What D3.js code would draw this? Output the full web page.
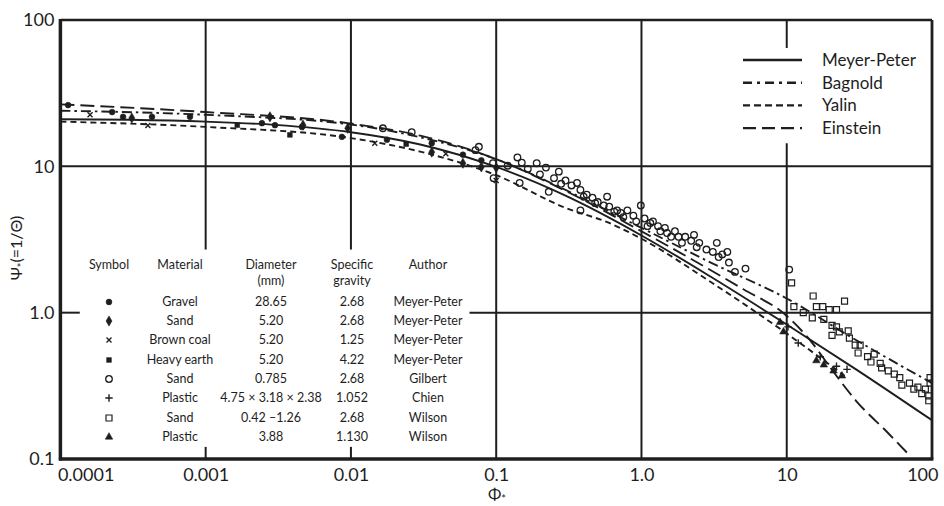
<!DOCTYPE html>
<html>
<head>
<meta charset="utf-8">
<script src="https://cdn.jsdelivr.net/npm/d3@7"></script>
<style>
  html, body { margin: 0; background: #fff; }
  svg text { font-family: Lato, "Open Sans", sans-serif; fill: #1e1e1e; }
</style>
</head>
<body>
<svg id="chart" width="944" height="506"></svg>
<script>
// ---- axis ticks ----
const xTicks = [1e-4, 1e-3, 1e-2, 0.1, 1, 10, 100];
const xTickLabels = ["0.0001", "0.001", "0.01", "0.1", "1.0", "10", "100"];
const yTicks = [0.1, 1, 10, 100];
const yTickLabels = ["0.1", "1.0", "10", "100"];

// ---- transport curves [Phi, Psi] ----
const meyerPeter = [[1e-4,21.0],[3e-4,20.8],[1e-3,20.2],[3e-3,19.2],[0.01,17.1],[0.03,14.1],[0.1,9.9],[0.3,6.3],[1,3.37],[3,1.76],[10,0.83],[30,0.41],[100,0.184]];
const bagnold    = [[1e-4,24.0],[1e-3,22.5],[0.01,19.3],[0.03,15.8],[0.1,11.2],[0.3,6.9],[1,3.8],[3,2.2],[10,1.25],[30,0.65],[100,0.33]];
const yalin      = [[1e-4,20.2],[1e-3,18.6],[0.01,15.6],[0.03,12.6],[0.1,8.7],[0.3,5.2],[0.6,4.1],[1,3.2],[3,1.62],[10,0.72],[25,0.37]];
const einstein   = [[1e-4,26.5],[1e-3,23.5],[0.01,19.6],[0.03,16.2],[0.1,11.2],[0.3,6.8],[1,3.6],[3,1.95],[5,1.45],[10,0.95],[15,0.62],[20,0.42],[30,0.25],[50,0.15],[70,0.106]];

const curveNames = ["Meyer-Peter", "Bagnold", "Yalin", "Einstein"];

// ---- measured data [Phi, Psi] ----
const gravelPts = [[1.13e-4,26.2],[2.27e-4,23.5],[2.7e-4,21.8],[4.27e-4,21.8],[7.8e-4,21.8],[2.44e-3,19.7],[3.0e-3,19.1],[4.6e-3,18.6],[8.67e-3,15.9],[0.0177,15.2],[0.036,14.4],[0.059,12.0],[0.079,11.0]];
const sandMPPts = [[3.1e-4,21.4],[2.77e-3,21.8],[4.68e-3,19.1],[9.5e-3,18.2],[0.036,12.5],[0.059,10.5],[0.079,9.9],[0.1,9.8]];
const brownCoalPts = [[1.6e-4,22.5],[4.0e-4,19.0],[0.0146,14.4],[0.045,12.2],[0.1,8.0]];
const heavyEarthPts = [[1.65e-3,19.1],[3.8e-3,16.4],[0.024,14.2]];
const gilbertPts = [[0.0166,18.2],[0.0262,17.1],[0.072,12.9],[0.076,13.6],[0.095,10.5],[0.096,8.3],[0.12,10.1],[0.14,11.5],[0.145,7.7],[0.15,10.6],[0.165,9.6],[0.19,10.5],[0.2,8.8],[0.22,9.8],[0.23,6.7],[0.25,8.3],[0.27,9.2],[0.28,7.6],[0.3,8.0],[0.33,7.4],[0.36,7.7],[0.38,6.9],[0.38,5.0],[0.4,6.2],[0.42,6.4],[0.46,6.1],[0.48,5.6],[0.5,5.7],[0.55,5.4],[0.58,6.2],[0.6,5.3],[0.65,4.9],[0.68,5.0],[0.72,4.8],[0.75,4.5],[0.8,5.0],[0.88,4.6],[0.92,4.2],[0.99,5.4],[1.05,4.4],[1.1,3.9],[1.15,4.1],[1.2,4.2],[1.3,3.9],[1.35,3.6],[1.45,3.8],[1.5,3.5],[1.6,3.3],[1.7,3.6],[1.8,3.3],[1.9,3.0],[2.0,3.3],[2.2,3.1],[2.3,3.4],[2.4,2.8],[2.5,3.0],[2.8,2.7],[3.1,2.6],[3.3,3.0],[3.4,2.4],[3.6,2.5],[3.9,2.6],[4.0,2.2],[4.4,1.9],[5.2,2.0],[10.4,1.97]];
const chienPts = [[10.2,0.8],[12,0.62],[17,0.5],[22,0.43],[26,0.41]];
const wilsonSandPts = [[10.8,1.6],[11.2,1.1],[13,1.0],[15.2,1.3],[15,0.92],[16,1.1],[17.7,1.1],[18,0.9],[19.6,1.05],[20.5,0.82],[20.5,0.7],[22,0.8],[22,1.05],[23,0.74],[25,1.2],[26.5,0.75],[27,0.67],[29.6,0.6],[32,0.6],[31,0.53],[36,0.5],[38,0.46],[40,0.52],[44,0.45],[45,0.42],[50,0.4],[55,0.38],[60,0.36],[62,0.32],[70,0.33],[75,0.3],[80,0.31],[85,0.28],[90,0.3],[95,0.27],[95,0.25],[97,0.33],[97,0.36]];
const wilsonPlasticPts = [[9.0,0.86],[9.5,0.74],[16,0.47],[18,0.44],[21,0.4],[24,0.37]];

// ---- table of experiments ----
const tableHeaders = [["Symbol"], ["Material"], ["Diameter", "(mm)"], ["Specific", "gravity"], ["Author"]];
const materials = ["Gravel", "Sand", "Brown coal", "Heavy earth", "Sand", "Plastic", "Sand", "Plastic"];
const diameters = ["28.65", "5.20", "5.20", "5.20", "0.785", "4.75 × 3.18 × 2.38", "0.42 –1.26", "3.88"];
const gravities = ["2.68", "2.68", "1.25", "4.22", "2.68", "1.052", "2.68", "1.130"];
const authors = ["Meyer-Peter", "Meyer-Peter", "Meyer-Peter", "Meyer-Peter", "Gilbert", "Chien", "Wilson", "Wilson"];

// ---- drawing ----
const svg = d3.select("#chart");
const L = 60.4, R = 932, T = 20, B = 459;
const x = d3.scaleLog().domain([1e-4, 100]).range([L, R]);
const y = d3.scaleLog().domain([0.1, 100]).range([B, T]);
const ink = "#1e1e1e";

// grid lines, with the breaks left around the legend and the table
const gridV = [
  { v: 1e-3, segs: [[2.7, 100], [0.1, 0.121]] },
  { v: 1e-2, segs: [[2.7, 100], [0.1, 0.121]] },
  { v: 0.1, segs: [[0.1, 100]] },
  { v: 1, segs: [[0.1, 100]] },
  { v: 10, segs: [[64.4, 100], [0.1, 14.4]] }
];
const gridH = [
  { v: 10, segs: [[1e-4, 100]] },
  { v: 1, segs: [[1e-4, 1.36e-4], [0.0655, 100]] }
];
const grid = svg.append("g").attr("stroke", ink).attr("stroke-width", 2);
gridV.forEach(g => g.segs.forEach(s => grid.append("line")
  .attr("x1", x(g.v)).attr("x2", x(g.v)).attr("y1", y(s[0])).attr("y2", y(s[1]))));
gridH.forEach(g => g.segs.forEach(s => grid.append("line")
  .attr("y1", y(g.v)).attr("y2", y(g.v)).attr("x1", x(s[0])).attr("x2", x(s[1]))));

// frame
svg.append("line").attr("x1", L).attr("x2", R).attr("y1", T).attr("y2", T).attr("stroke", ink).attr("stroke-width", 2.5);
svg.append("line").attr("x1", R).attr("x2", R).attr("y1", T).attr("y2", B).attr("stroke", ink).attr("stroke-width", 2.8);
svg.append("line").attr("x1", L).attr("x2", L).attr("y1", T - 1).attr("y2", B + 1.5).attr("stroke", ink).attr("stroke-width", 3.5);
svg.append("line").attr("x1", L - 1.5).attr("x2", R + 1.4).attr("y1", B).attr("y2", B).attr("stroke", ink).attr("stroke-width", 3.5);

// axes (labels only; the frame and grid carry the lines)
const xAxis = svg.append("g").attr("transform", `translate(0,${B})`)
  .call(d3.axisBottom(x).tickValues(xTicks).tickFormat((d, i) => xTickLabels[i]).tickSize(0).tickPadding(9));
const yAxis = svg.append("g").attr("transform", `translate(${L},0)`)
  .call(d3.axisLeft(y).tickValues(yTicks).tickFormat((d, i) => yTickLabels[i]).tickSize(0).tickPadding(6));
[xAxis, yAxis].forEach(a => {
  a.select(".domain").remove();
  a.selectAll("text").attr("font-size", 18).attr("fill", ink)
    .style("font-family", "Lato, 'Open Sans', sans-serif");
});
// end labels sit inside the page edges
xAxis.selectAll(".tick").filter((d, i) => i === 0).select("text")
  .attr("text-anchor", "start").attr("dx", -3);
xAxis.selectAll(".tick").filter((d, i) => i === xTicks.length - 1).select("text")
  .attr("text-anchor", "end").attr("dx", 6);

// axis titles
const yt = svg.append("text").attr("transform", "translate(22,248) rotate(-90)")
  .attr("text-anchor", "middle").attr("font-size", 16);
yt.append("tspan").text("Ψ");
yt.append("tspan").attr("font-size", 11).attr("dy", 4).text("*");
yt.append("tspan").attr("dy", -4).text("(=1/Θ)");
const xt = svg.append("text").attr("x", 497).attr("y", 500).attr("text-anchor", "middle").attr("font-size", 16);
xt.append("tspan").text("Φ");
xt.append("tspan").attr("font-size", 11).attr("dy", 3).text("*");

// curves
svg.append("clipPath").attr("id", "plot").append("rect")
  .attr("x", L).attr("y", T).attr("width", R - L).attr("height", B - T);
const curveStyles = [
  { data: meyerPeter, dash: null, legendDash: null },
  { data: bagnold, dash: "10,4,2.5,4", legendDash: "9,5,3,5" },
  { data: yalin, dash: "6,4", legendDash: "7,4" },
  { data: einstein, dash: "14,6", legendDash: "13,6" }
];
const line = d3.line().x(d => x(d[0])).y(d => y(d[1])).curve(d3.curveMonotoneX);
const curves = svg.append("g").attr("clip-path", "url(#plot)");
curveStyles.forEach(c => curves.append("path").attr("d", line(c.data))
  .attr("fill", "none").attr("stroke", ink).attr("stroke-width", 1.9)
  .attr("stroke-dasharray", c.dash));

// curve legend
const leg = svg.append("g");
curveNames.forEach((name, i) => {
  const yy = 60 + i * 22.7;
  leg.append("line").attr("x1", 743).attr("x2", 802).attr("y1", yy).attr("y2", yy)
    .attr("stroke", ink).attr("stroke-width", 2.4)
    .attr("stroke-dasharray", curveStyles[i].legendDash);
  leg.append("text").attr("x", 822).attr("y", yy).attr("dy", "0.35em").attr("font-size", 17).text(name);
});

// markers
const markerDefs = [
  { pts: gravelPts, type: d3.symbolCircle, size: 26, fill: true },
  { pts: sandMPPts, type: d3.symbolDiamond, size: 30, fill: true },
  { pts: brownCoalPts, type: d3.symbolTimes, size: 18, fill: false, sw: 1.4 },
  { pts: heavyEarthPts, type: d3.symbolSquare, size: 22, fill: true },
  { pts: gilbertPts, type: d3.symbolCircle, size: 34, fill: false, sw: 1.3 },
  { pts: chienPts, type: d3.symbolPlus, size: 20, fill: false, sw: 1.4 },
  { pts: wilsonSandPts, type: d3.symbolSquare, size: 36, fill: false, sw: 1.2 },
  { pts: wilsonPlasticPts, type: d3.symbolTriangle, size: 24, fill: true }
];
function drawSymbol(g, def, cx, cy) {
  g.append("path").attr("d", d3.symbol().type(def.type).size(def.size)())
    .attr("transform", `translate(${cx},${cy})`)
    .attr("fill", def.fill ? ink : "#fff")
    .attr("fill-opacity", def.fill ? 1 : 0)
    .attr("stroke", ink).attr("stroke-width", def.fill ? 0.6 : def.sw);
}
const marks = svg.append("g").attr("clip-path", "url(#plot)");
markerDefs.forEach(def => def.pts.forEach(p => drawSymbol(marks, def, x(p[0]), y(p[1]))));

// table of experiments
const tbl = svg.append("g").attr("font-size", 12.5);
const colX = [109, 180, 271, 352, 428];
tableHeaders.forEach((h, i) => h.forEach((t, j) =>
  tbl.append("text").attr("x", colX[i]).attr("y", 265 + j * 16).attr("dy", "0.35em")
    .attr("text-anchor", "middle").text(t)));
const rowY = [302, 321, 340, 360, 379, 398, 418, 437];
const columns = [materials, diameters, gravities, authors];
rowY.forEach((ry, r) => {
  drawSymbol(tbl, markerDefs[r], colX[0], ry);
  columns.forEach((col, c) => tbl.append("text").attr("x", colX[c + 1]).attr("y", ry)
    .attr("dy", "0.35em").attr("text-anchor", "middle").text(col[r]));
});
</script>
</body>
</html>
